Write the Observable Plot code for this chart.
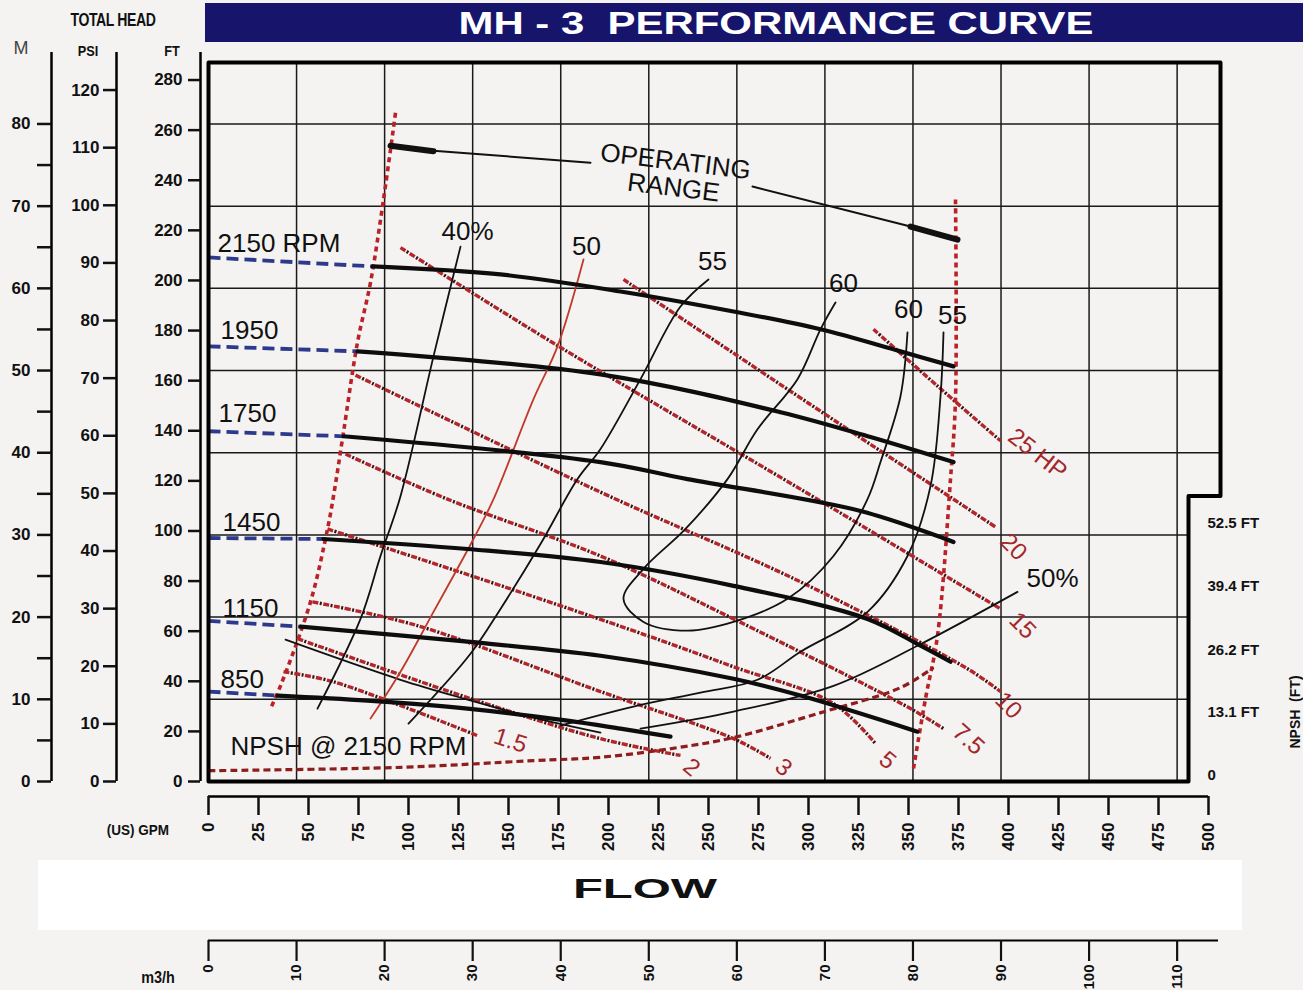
<!DOCTYPE html>
<html>
<head>
<meta charset="utf-8">
<title>MH - 3 Performance Curve</title>
<script src="https://cdn.jsdelivr.net/npm/d3@7"></script>
<script src="https://cdn.jsdelivr.net/npm/@observablehq/plot@0.6"></script>
<style>
  html,body{margin:0;padding:0;}
  body{width:1303px;height:990px;background:#f4f3f1;position:relative;overflow:hidden;font-family:"Liberation Sans",Arial,Helvetica,sans-serif;color:#111;}
  .abs{position:absolute;white-space:pre;}
  #titlebar{left:205px;top:3px;width:1098px;height:39px;background:#16156b;}
  #titletext{left:776px;top:23px;transform:translate(-50%,-50%) scaleX(1.31);color:#fff;font-weight:bold;font-size:32px;line-height:32px;}
  #totalhead{left:113px;top:20px;transform:translate(-50%,-50%) scaleX(0.78);font-weight:bold;font-size:18px;letter-spacing:-0.5px;}
  .unit{font-weight:bold;font-size:15px;transform:translate(-50%,-50%) scaleX(0.85);}
  #main{left:0;top:44px;}
  #flowbox{left:38px;top:860px;width:1204px;height:70px;background:#ffffff;}
  #flowtext{left:645px;top:889px;transform:translate(-50%,-50%) scaleX(1.75);font-weight:bold;font-size:28px;line-height:28px;color:#111;}
  #m3h{left:0;top:932px;}
  #npshlabel{left:1295px;top:712px;transform:translate(-50%,-50%) rotate(-90deg);font-weight:bold;font-size:14px;}
</style>
</head>
<body>
<div id="titlebar" class="abs"></div>
<div id="titletext" class="abs">MH - 3  PERFORMANCE CURVE</div>
<div id="totalhead" class="abs">TOTAL HEAD</div>
<div class="abs" style="left:21px;top:48px;transform:translate(-50%,-50%);font-size:18px;color:#444;">M</div>
<div class="abs unit" style="left:88px;top:50px;">PSI</div>
<div class="abs unit" style="left:172px;top:50px;">FT</div>
<div class="abs unit" style="left:138px;top:829px;transform:translate(-50%,-50%) scaleX(0.9);">(US) GPM</div>
<div id="main" class="abs"></div>
<div id="flowbox" class="abs"></div>
<div id="flowtext" class="abs">FLOW</div>
<div id="m3h" class="abs"></div>
<div class="abs unit" style="left:158px;top:978px;transform:translate(-50%,-50%) scaleX(0.9);font-size:16px;">m3/h</div>
<div id="npshlabel" class="abs">NPSH  (FT)</div>
<script>
// ---------- unit conversions (scale relations of the chart) ----------
const FT_PER_M = 3.2808;
const FT_PER_PSI = 2.30;
const GPM_PER_M3H = 4.4029;
const NPSH_OFFSET = 2.4;   // head-ft where NPSH 0 sits
const NPSH_SCALE = 1.915;  // head-ft per NPSH-ft
const TOP_FT = 287, RIGHT_GPM = 506, NOTCH_GPM = 490, NOTCH_FT = 114;

// ---------- tick values ----------
const gpmTicks = d3.range(0, 501, 25);
const m3hTicks = d3.range(0, 111, 10);
const ftTicks = d3.range(0, 281, 20);
const psiTicks = d3.range(0, 121, 10);
const mTicks = d3.range(0, 81, 5);
const npshTicks = [0, 13.1, 26.2, 39.4, 52.5];
const npshTickLabels = ["0", "13.1 FT", "26.2 FT", "39.4 FT", "52.5 FT"];
const gridM3h = d3.range(10, 111, 10);
const gridM = d3.range(10, 81, 10);

// ---------- head-capacity curves [GPM, FT] ----------
const rpmNames = ["2150 RPM", "1950", "1750", "1450", "1150", "850"];
const shutoffHead = [209.2, 173.7, 139.8, 97.2, 64.1, 35.9];
const head2150 = [[82,205.6],[146,202.4],[206,195.6],[262.5,187.6],[306,180.5],[346,171.7],[372.5,165.7]];
const head1950 = [[74.5,171.7],[196,162.5],[286,147.4],[331,137.5],[372.5,127.5]];
const head1750 = [[67.5,137.8],[196,127.5],[239.5,120.7],[326,108],[372.5,95.6]];
const head1450 = [[57.5,96.8],[129.5,92.8],[196,87.6],[262.5,78.1],[329.5,64.9],[356,54.2],[371,47.8]];
const head1150 = [[46,61.8],[129.5,55.8],[196,50.2],[262.5,41.0],[296,34.3],[354.5,19.9]];
const head850  = [[34.5,34.3],[79.5,32.3],[129.5,29.1],[179.5,24.3],[206,21.1],[231,17.9]];
const rpmLabelPos = [[4.5,214.8],[6,180],[5,146.9],[7,103.2],[7,69.1],[6,40.7]];

// ---------- efficiency contours [GPM, FT] ----------
const eff40 = [[126,213.5],[112.5,169.7],[96,113.9],[86,90.0],[76,64.9],[54.5,29.1]];
const eff50L = [[187.5,208.4],[174.5,173.7],[162.5,152.6],[142.5,112.7],[132.5,96.8],[112.5,67.7],[96,43.8],[81,25.1]];
const eff55L = [[250,200.4],[236,189.6],[216,160.6],[196,132.7],[184.5,120.7],[166,94.8],[146,68.9],[131,51],[100,23.1]];
const eff60 = [[313.5,191.2],[306,180.5],[294.5,160.6],[274.5,140.6],[259.5,120.7],[238.5,100.8],[217.5,84.9],[207.5,72.9],[217.5,63.7],[239.5,60.2],[262.5,63.7],[289.5,72.9],[312.5,90.0],[329.5,112.7],[336,127.5],[346,153.8],[349.5,179.3]];
const eff55R = [[367.5,179.3],[366,153.8],[361,117.9],[349.5,90.0],[329.5,67.7],[296,51.8],[274.5,40.6],[246,35.5],[212.5,29.9],[176,22.3]];
const eff50R = [[404.5,75.7],[354.5,54.2],[312.5,38.2],[262.5,27.9],[216,21.1]];
const eff40R = [[38.5,56.6],[96,40.6],[129.5,32.7],[162.5,25.5],[196,19.5]];
const effLabels = ["40%", "50", "55", "60", "60", "55", "50%"];
const effLabelPos = [[129.5,219.5],[189,213.5],[252,207.6],[317.5,198.8],[350,188.4],[372,186.1],[422,80.9]];

// ---------- power lines (HP) [GPM, FT] ----------
const hp25 = [[332.5,180.5],[364,158.2],[396,136]];
const hp20 = [[207.5,200.4],[300,151],[393.5,101.6]];
const hp15 = [[96,213.1],[174.5,174],[296,116.7],[396,68.9]];
const hp10 = [[73.5,162.2],[196,115.5],[296,79.7],[379.5,45.0],[396,35.9]];
const hp7_5 = [[68.5,130.7],[119.5,112.7],[196,90.0],[262.5,64.9],[351,29.1],[367.5,21.1]];
const hp5 = [[59.5,100.8],[136,80.9],[219.5,58.2],[262.5,45.8],[312.5,31.1],[333.5,15.1]];
const hp3 = [[52,71.7],[104.5,62.2],[196,35.9],[262.5,17.1],[281,9.2]];
const hp2 = [[44.5,57],[131,33.1],[196,17.1],[236,10.4]];
const hp1_5 = [[37.5,43.8],[62.5,39.8],[134.5,18.3]];
const hpNames = ["25 HP", "20", "15", "10", "7.5", "5", "3", "2", "1.5"];
const hpLabelPos = [[414.5,130.7],[402.5,93.6],[407,62.2],[400,30.3],[380,16.8],[339.5,8.4],[287.5,5.6],[241.5,5.6],[151,16.3]];
const hpLabelAngle = [38, 45, 45, 45, 42, 40, 40, 40, 18];

// ---------- operating range & NPSH ----------
const opLeft = [[93.5,266.9],[87.5,232.3],[81,199.2],[74.5,175.3],[67.5,139.4],[62.5,113.9],[59.5,100.8],[51,71.7],[36,38.2],[31,29.1]];
const opRight = [[373.5,232.3],[373.5,152.6],[371,120.7],[364.5,58.2],[358.5,33.1],[352.5,5.2]];
const opPointerL = [[112.5,251.8],[191,247]];
const opBarL = [[91,253.8],[112.5,251.6]];
const opPointerR = [[272,237.5],[351,221.5]];
const opBarR = [[351,221.5],[374.5,216.3]];
const opLabelPos = [[233.5,247.4],[232.5,237]];
const npshGpm = [0, 96, 162.5, 196, 234.5, 262.5, 304.5, 346, 362.5];
const npsh2150 = [1.0, 1.7, 3.1, 3.8, 5.8, 7.9, 12.9, 18.3, 22.5];

// ---------- build tables ----------
const rpmPts = [head2150, head1950, head1750, head1450, head1150, head850];
const rpmSolid = rpmPts.flatMap((pts, i) => pts.map(([q, h]) => ({k: rpmNames[i], q, h})));
const rpmDash = rpmPts.flatMap((pts, i) => [{k: rpmNames[i], q: 0, h: shutoffHead[i]}, {k: rpmNames[i], q: pts[0][0], h: pts[0][1]}]);
const rpmText = rpmNames.map((t, i) => ({t, q: rpmLabelPos[i][0], h: rpmLabelPos[i][1]}));

const effBlack = [["40", eff40], ["55L", eff55L], ["60", eff60], ["55R", eff55R], ["50R", eff50R], ["40R", eff40R]]
  .flatMap(([k, pts]) => pts.map(([q, h]) => ({k, q, h})));
const effRed = eff50L.map(([q, h]) => ({q, h}));
const effText = effLabels.map((t, i) => ({t, q: effLabelPos[i][0], h: effLabelPos[i][1]}));

const hpPts = [hp25, hp20, hp15, hp10, hp7_5, hp5, hp3, hp2, hp1_5];
const hpLines = hpPts.flatMap((pts, i) => pts.map(([q, h]) => ({k: hpNames[i], q, h})));
const hpText = hpNames.map((t, i) => ({t, q: hpLabelPos[i][0], h: hpLabelPos[i][1], a: hpLabelAngle[i]}));

const npshLine = npshGpm.map((q, i) => ({q, h: NPSH_OFFSET + npsh2150[i] * NPSH_SCALE}));
const npshText = npshTicks.map((v, i) => ({t: npshTickLabels[i], h: NPSH_OFFSET + v * NPSH_SCALE}));

const frameOutline = [[0,0],[0,TOP_FT],[RIGHT_GPM,TOP_FT],[RIGHT_GPM,NOTCH_FT],[NOTCH_GPM,NOTCH_FT],[NOTCH_GPM,0],[0,0]];

const labelFont = "Liberation Sans, Arial, sans-serif";

const main = Plot.plot({
  width: 1303, height: 814,
  marginLeft: 208, marginRight: 83, marginTop: 18, marginBottom: 77,
  x: {domain: [0, RIGHT_GPM]},
  y: {domain: [0, TOP_FT]},
  style: {background: "transparent", overflow: "visible", fontFamily: labelFont, color: "#111"},
  marks: [
    // grid
    Plot.ruleX(gridM3h, {x: d => d * GPM_PER_M3H, y1: 0, y2: TOP_FT, stroke: "#1a1a1a", strokeWidth: 1.5}),
    Plot.ruleY(gridM, {y: d => d * FT_PER_M, x1: 0, x2: d => d * FT_PER_M > NOTCH_FT ? RIGHT_GPM : NOTCH_GPM, stroke: "#1a1a1a", strokeWidth: 1.5}),
    // power lines: red dashes with dark dots between
    Plot.line(hpLines, {x: "q", y: "h", z: "k", stroke: "#b3262b", strokeWidth: 3.4, strokeDasharray: "6,5", strokeLinecap: "butt", curve: "catmull-rom"}),
    Plot.line(hpLines, {x: "q", y: "h", z: "k", stroke: "#3a1010", strokeWidth: 3.4, strokeDasharray: "2,9", strokeDashoffset: -7.5, strokeLinecap: "butt", curve: "catmull-rom"}),
    // operating range boundaries
    Plot.line(opLeft, {stroke: "#bb2228", strokeWidth: 3.6, strokeDasharray: "5,4", strokeLinecap: "butt", curve: "catmull-rom"}),
    Plot.line(opRight, {stroke: "#bb2228", strokeWidth: 3.6, strokeDasharray: "5,4", strokeLinecap: "butt", curve: "catmull-rom"}),
    // NPSH
    Plot.line(npshLine, {x: "q", y: "h", stroke: "#8e1d1d", strokeWidth: 3.2, strokeDasharray: "7,4", strokeLinecap: "butt", curve: "catmull-rom"}),
    // efficiency
    Plot.line(effBlack, {x: "q", y: "h", z: "k", stroke: "#111", strokeWidth: 1.8, curve: "catmull-rom"}),
    Plot.line(effRed, {x: "q", y: "h", stroke: "#c0392b", strokeWidth: 1.8, curve: "catmull-rom"}),
    // head curves
    Plot.line(rpmDash, {x: "q", y: "h", z: "k", stroke: "#2d3a8c", strokeWidth: 3.8, strokeDasharray: "12,6", strokeLinecap: "butt"}),
    Plot.line(rpmSolid, {x: "q", y: "h", z: "k", stroke: "#0d0d0d", strokeWidth: 4.2, curve: "catmull-rom"}),
    // operating range pointers
    Plot.line(opPointerL, {stroke: "#111", strokeWidth: 2}),
    Plot.line(opBarL, {stroke: "#111", strokeWidth: 6}),
    Plot.line(opPointerR, {stroke: "#111", strokeWidth: 2}),
    Plot.line(opBarR, {stroke: "#111", strokeWidth: 6}),
    // frame
    Plot.line(frameOutline, {stroke: "#000", strokeWidth: 4}),
    // labels
    Plot.text(rpmText, {x: "q", y: "h", text: "t", textAnchor: "start", fontSize: 26, fill: "#111"}),
    Plot.text(effText, {x: "q", y: "h", text: "t", fontSize: 26, fill: "#111"}),
    Plot.text(hpText, {x: "q", y: "h", text: "t", rotate: d => d.a, fontSize: 24, fill: "#a3262a"}),
    Plot.text(["OPERATING", "RANGE"], {x: (d, i) => opLabelPos[i][0], y: (d, i) => opLabelPos[i][1], text: d => d, rotate: 7, fontSize: 26, letterSpacing: -1, fill: "#111"}),
    Plot.text(["NPSH @ 2150 RPM"], {x: 11, y: 13.9, text: d => d, textAnchor: "start", fontSize: 26, fill: "#111"}),
    Plot.text(npshText, {x: RIGHT_GPM, y: "h", text: "t", textAnchor: "start", dx: -13, fontSize: 15, fontWeight: "bold", fill: "#111"}),
    // axes: FT
    Plot.ruleX([0], {y1: 0, y2: 291, dx: -8, stroke: "#000", strokeWidth: 2.5}),
    Plot.axisY(ftTicks, {anchor: "left", dx: -8, tickSize: 12, tickPadding: 6, fontSize: 17, fontWeight: "bold", strokeWidth: 2.5, label: null}),
    // PSI
    Plot.ruleX([0], {y1: 0, y2: 291, dx: -92, stroke: "#000", strokeWidth: 2.5}),
    Plot.axisY(psiTicks.map(p => p * FT_PER_PSI), {anchor: "left", dx: -92, tickSize: 13, tickPadding: 4, fontSize: 17, fontWeight: "bold", strokeWidth: 2.5, tickFormat: d => Math.round(d / FT_PER_PSI), label: null}),
    // M
    Plot.ruleX([0], {y1: 0, y2: 291, dx: -157, stroke: "#000", strokeWidth: 2.5}),
    Plot.axisY(mTicks.map(m => m * FT_PER_M), {anchor: "left", dx: -157, tickSize: 14, tickPadding: 7, fontSize: 17, fontWeight: "bold", strokeWidth: 2.5, tickFormat: d => { const m = Math.round(d / FT_PER_M); return m % 10 === 0 ? m : ""; }, label: null}),
    // GPM
    Plot.ruleY([0], {x1: 0, x2: 500, dy: 15, stroke: "#000", strokeWidth: 2.5}),
    Plot.axisX(gpmTicks, {anchor: "bottom", dy: 15, tickSize: 19, tickPadding: 7, tickRotate: -90, fontSize: 17, fontWeight: "bold", strokeWidth: 2.5, label: null})
  ]
});
document.getElementById("main").appendChild(main);

const m3h = Plot.plot({
  width: 1303, height: 58,
  marginLeft: 208, marginRight: 83, marginTop: 0, marginBottom: 50,
  x: {domain: [0, RIGHT_GPM]},
  y: {domain: [0, 1], axis: null},
  style: {background: "transparent", overflow: "visible", fontFamily: labelFont, color: "#111"},
  marks: [
    Plot.ruleY([0], {x1: 0, x2: RIGHT_GPM - 1, stroke: "#000", strokeWidth: 2}),
    Plot.axisX(m3hTicks.map(v => v * GPM_PER_M3H), {anchor: "bottom", tickSize: 21, tickPadding: 3, tickRotate: -90, fontSize: 15, fontWeight: "bold", strokeWidth: 2.2, tickFormat: d => Math.round(d / GPM_PER_M3H), label: null})
  ]
});
document.getElementById("m3h").appendChild(m3h);
</script>
</body>
</html>
